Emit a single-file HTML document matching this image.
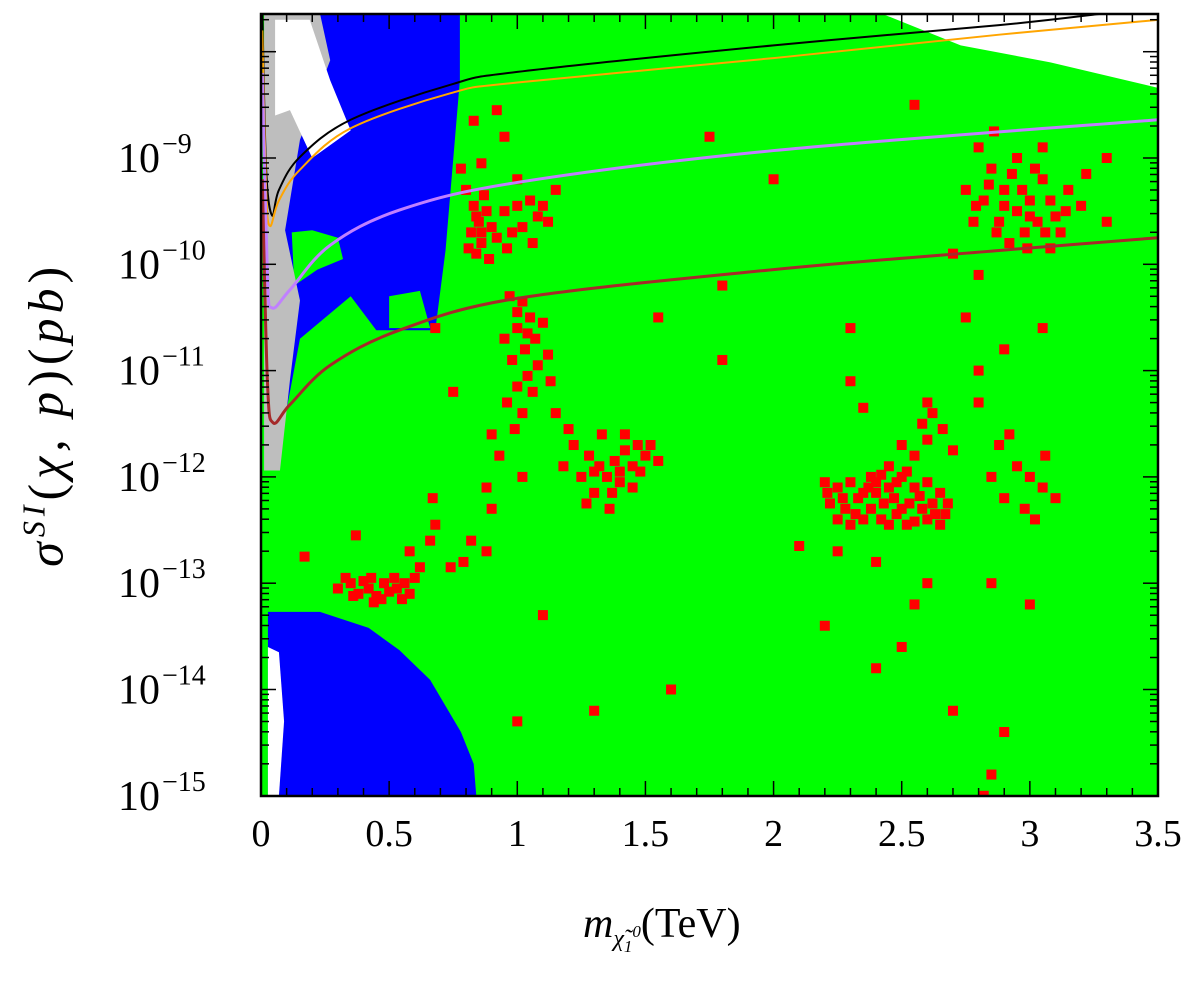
<!DOCTYPE html>
<html><head><meta charset="utf-8"><style>
body{margin:0;background:#fff;width:1187px;height:985px;overflow:hidden;font-family:"Liberation Serif",serif}
</style></head><body>
<svg id="chart" width="1187" height="985" xmlns="http://www.w3.org/2000/svg" style="position:absolute;left:0;top:0"></svg>
<script>
const xTicks=[0,0.5,1,1.5,2,2.5,3,3.5];
const xTickLabels=["0","0.5","1","1.5","2","2.5","3","3.5"];
const yTicks=[-15,-14,-13,-12,-11,-10,-9];
const yTickLabels=["−15","−14","−13","−12","−11","−10","−9"];
// region polygons [TeV, log10 sigma]
const whiteTopRight=[[2.42,-7.64],[2.73,-7.94],[3.08,-8.1],[3.5,-8.34],[3.5,-7.64]];
const blueTopLeft=[[0.016,-7.64],[0.776,-7.64],[0.776,-8.27],[0.72,-9.87],[0.68,-10.62],[0.45,-10.62],[0.35,-10.3],[0.152,-10.7],[0.055,-11.94],[0.016,-11.94]];
const greenInTop=[[0.12,-9.7],[0.2,-9.68],[0.3,-9.75],[0.32,-9.95],[0.22,-10.05],[0.13,-10.2]];
const greenInTop2=[[0.5,-10.3],[0.62,-10.25],[0.66,-10.6],[0.5,-10.6]];
const grayTopLeft=[[0.012,-7.64],[0.23,-7.64],[0.27,-8.08],[0.152,-8.83],[0.094,-9.68],[0.152,-10.34],[0.113,-11.09],[0.074,-11.94],[0.012,-11.94]];
const whiteTopLeft=[[0.055,-7.70],[0.19,-7.70],[0.27,-8.27],[0.35,-8.74],[0.2,-9.0],[0.113,-8.55],[0.055,-8.6]];
const blueBottomLeft=[[0.027,-13.27],[0.23,-13.27],[0.42,-13.42],[0.54,-13.63],[0.66,-13.91],[0.78,-14.4],[0.83,-14.7],[0.84,-15],[0.027,-15]];
const whiteBottomLeft=[[0.027,-13.6],[0.07,-13.65],[0.09,-14.3],[0.07,-15],[0.027,-15]];
// exclusion curves
const blackCurve=[[0.005,-7.6],[0.02,-9.1],[0.043,-9.54],[0.07,-9.3],[0.152,-8.99],[0.35,-8.64],[0.74,-8.31],[1.0,-8.19],[2.0,-7.94],[2.88,-7.75],[3.27,-7.645]];
const orangeCurve=[[0.005,-7.8],[0.02,-9.3],[0.035,-9.64],[0.07,-9.4],[0.152,-9.11],[0.35,-8.72],[0.74,-8.39],[1.0,-8.29],[2.0,-8.06],[2.88,-7.84],[3.5,-7.70]];
const violetCurve=[[0.005,-8.2],[0.025,-10.1],[0.043,-10.41],[0.113,-10.24],[0.27,-9.82],[0.54,-9.49],[1.0,-9.23],[2.0,-8.93],[3.5,-8.64]];
const brownCurve=[[0.005,-9.2],[0.025,-11.1],[0.047,-11.49],[0.113,-11.32],[0.27,-10.95],[0.54,-10.62],[1.0,-10.32],[2.0,-10.05],[2.88,-9.87],[3.5,-9.75]];
// red points
const redPoints=[
[0.3,-13.05],[0.35,-13.0],[0.38,-13.1],[0.42,-13.05],[0.45,-13.12],[0.48,-13.0],[0.5,-13.08],[0.53,-13.05],[0.56,-13.0],[0.58,-13.1],[0.44,-13.18],[0.4,-12.98],[0.52,-12.95],[0.6,-12.95],[0.62,-12.85],[0.36,-13.12],[0.47,-13.15],[0.33,-12.95],[0.43,-12.95],[0.55,-13.15],[0.37,-12.55],[0.58,-12.7],[0.17,-12.75],[0.66,-12.6],[0.68,-12.45],[0.74,-12.85],[0.79,-12.8],[0.82,-12.6],[0.88,-12.7],[0.9,-12.3],[0.67,-12.2],
[0.8,-9.3],[0.83,-9.45],[0.85,-9.6],[0.82,-9.7],[0.86,-9.8],[0.88,-9.5],[0.84,-9.9],[0.9,-9.65],[0.87,-9.35],[0.81,-9.85],[0.89,-9.95],[0.92,-9.75],[0.84,-9.55],[0.86,-9.7],[0.78,-9.1],[0.86,-9.05],[0.95,-8.8],[0.83,-8.65],[0.92,-8.55],
[0.95,-9.5],[1.0,-9.45],[1.05,-9.4],[1.08,-9.55],[1.02,-9.65],[0.98,-9.7],[1.1,-9.45],[1.12,-9.6],[0.96,-9.85],[1.06,-9.8],[1.15,-9.3],[1.0,-9.2],
[0.97,-10.3],[1.02,-10.35],[1.05,-10.5],[1.0,-10.6],[1.07,-10.7],[1.03,-10.8],[0.98,-10.9],[1.08,-10.95],[1.04,-11.05],[1.1,-10.55],[1.0,-11.15],[1.06,-11.2],[0.96,-11.3],[1.12,-10.85],[1.02,-11.4],[0.95,-10.7],[1.13,-11.1],[1.04,-10.65],[1.0,-10.45],[0.9,-11.6],[0.99,-11.55],[0.93,-11.8],[1.02,-12.0],[0.88,-12.1],
[1.22,-11.7],[1.28,-11.8],[1.32,-11.9],[1.38,-11.85],[1.42,-11.75],[1.45,-11.9],[1.5,-11.8],[1.35,-12.0],[1.4,-12.05],[1.48,-11.95],[1.25,-12.0],[1.3,-12.15],[1.42,-11.6],[1.52,-11.7],[1.55,-11.85],[1.18,-11.9],[1.27,-12.25],[1.36,-12.3],[1.45,-12.1],[1.33,-11.6],[1.2,-11.55],[1.4,-11.95],[1.47,-11.7],[1.3,-11.95],[1.37,-12.15],
[2.2,-12.05],[2.25,-12.1],[2.3,-12.05],[2.35,-12.15],[2.4,-12.05],[2.45,-12.1],[2.5,-12.0],[2.55,-12.1],[2.6,-12.05],[2.65,-12.15],[2.22,-12.25],[2.28,-12.3],[2.33,-12.2],[2.38,-12.3],[2.43,-12.25],[2.48,-12.35],[2.53,-12.25],[2.58,-12.3],[2.63,-12.35],[2.68,-12.25],[2.25,-12.4],[2.35,-12.4],[2.45,-12.45],[2.55,-12.42],[2.65,-12.45],[2.42,-11.98],[2.52,-11.95],
[2.21,-12.15],[2.27,-12.2],[2.32,-12.35],[2.37,-12.1],[2.42,-12.4],[2.47,-12.2],[2.52,-12.45],[2.57,-12.18],[2.62,-12.25],[2.67,-12.35],[2.3,-12.45],[2.4,-12.15],[2.5,-12.3],[2.6,-12.4],[2.48,-12.05],[2.38,-12.0],
[2.55,-11.8],[2.6,-11.65],[2.58,-11.5],[2.62,-11.4],[2.6,-11.3],[2.66,-11.55],[2.5,-11.7],[2.7,-11.75],[2.45,-11.9],[2.3,-11.1],[2.35,-11.35],[2.25,-12.7],[2.6,-13.0],[2.55,-13.2],[2.4,-12.8],
[2.8,-8.9],[2.85,-9.1],[2.9,-9.3],[2.95,-9.5],[3.0,-9.4],[3.05,-9.2],[3.1,-9.55],[2.88,-9.6],[2.98,-9.7],[3.02,-9.1],[2.82,-9.4],[3.15,-9.3],[3.12,-9.7],[2.92,-9.8],[3.08,-9.85],[2.86,-8.75],[3.2,-9.45],[2.78,-9.6],[2.75,-9.3],[3.05,-8.9],[2.95,-9.0],[3.22,-9.15],[2.7,-9.9],[2.8,-10.1],[3.3,-9.0],[3.3,-9.6],
[2.84,-9.25],[2.9,-9.45],[2.97,-9.3],[3.03,-9.6],[3.08,-9.4],[2.93,-9.15],[2.87,-9.7],[3.0,-9.55],[3.14,-9.5],[2.99,-9.85],[2.79,-9.45],[3.06,-9.7],
[2.88,-11.7],[2.95,-11.9],[3.0,-12.0],[3.05,-12.1],[2.9,-12.2],[2.98,-12.3],[3.06,-11.8],[2.85,-12.0],[3.1,-12.2],[2.92,-11.6],[3.02,-12.4],[2.8,-11.3],[2.8,-11.0],[2.9,-10.8],[2.75,-10.5],
[1.8,-10.2],[1.55,-10.5],[2.3,-10.6],[3.05,-10.6],[2.2,-13.4],[2.5,-13.6],[2.7,-14.2],[2.9,-14.4],[2.4,-13.8],[1.6,-14.0],[1.3,-14.2],[1.0,-14.3],[1.8,-10.9],[0.68,-10.6],[0.75,-11.2],[1.15,-11.4],[2.1,-12.65],[2.0,-9.2],[1.75,-8.8],[2.55,-8.5],[3.0,-13.2],[2.85,-13.0],[2.82,-15],[2.85,-14.8],[1.1,-13.3]
];
const svg=document.getElementById('chart');
const NS='http://www.w3.org/2000/svg';
const L=261,R=1158,T=14,B=796;
const sx=v=>L+(v/3.5)*(R-L);
const sy=v=>158-(v+9)*106.3;
function el(tag,attrs,parent){const e=document.createElementNS(NS,tag);for(const k in attrs)e.setAttribute(k,attrs[k]);(parent||svg).appendChild(e);return e;}
const clip=el('clipPath',{id:'pc'});el('rect',{x:L,y:T,width:R-L,height:B-T},clip);
const g=el('g',{'clip-path':'url(#pc)'});


const bg=el('rect',{x:L,y:T,width:R-L,height:B-T,fill:'#00ff00'},g);


function poly(pts,fill,name){const p=el('polygon',{points:pts.map(d=>sx(d[0])+','+sy(d[1])).join(' '),fill:fill},g);}
poly(whiteTopRight,'#fff','white-region-top-right');
poly(blueTopLeft,'#0000ff','blue-region-top-left');
poly(greenInTop,'#00ff00','green-region-in-blue');
poly(greenInTop2,'#00ff00','green-region-in-blue-2');
poly(grayTopLeft,'#bebebe','gray-region-top-left');
poly(whiteTopLeft,'#fff','white-region-top-left');
poly(blueBottomLeft,'#0000ff','blue-region-bottom-left');
poly(whiteBottomLeft,'#fff','white-region-bottom-left');
redPoints.forEach(d=>{const r=el('rect',{x:sx(d[0])-5,y:sy(d[1])-5,width:10,height:10,fill:'#ff0000'},g);

});
function curve(pts,col,w,name){
 const P=pts.map(d=>[sx(d[0]),sy(d[1])]);
 let d='M'+P[0][0]+','+P[0][1];
 for(let i=0;i<P.length-1;i++){const p0=P[Math.max(0,i-1)],p1=P[i],p2=P[i+1],p3=P[Math.min(P.length-1,i+2)];
  const c1=[p1[0]+(p2[0]-p0[0])/6,p1[1]+(p2[1]-p0[1])/6],c2=[p2[0]-(p3[0]-p1[0])/6,p2[1]-(p3[1]-p1[1])/6];
  d+=' C'+c1+' '+c2+' '+p2;}
 const p=el('path',{d:d,fill:'none',stroke:col,'stroke-width':w,'stroke-linejoin':'round'},g);}
curve(blackCurve,'#000',2,'black-limit-curve');
curve(orangeCurve,'#ffa500',2,'orange-limit-curve');
curve(violetCurve,'#c080ff',3,'violet-limit-curve');
curve(brownCurve,'#a52a2a',3,'brown-limit-curve');
const tk=el('g',{stroke:'#000','stroke-width':1.5});


for(let i=0;i<=35;i++){const v=i/10,x=sx(v),len=(i%5==0)?15:8;
el('line',{x1:x,y1:B,x2:x,y2:B-len},tk);el('line',{x1:x,y1:T,x2:x,y2:T+len},tk);}
for(let d=-15;d<=-8;d++){for(let m=1;m<10;m++){const v=d+Math.log10(m);if(v>-7.64)continue;const y=sy(v),len=m==1?15:8;
el('line',{x1:L,y1:y,x2:L+len,y2:y},tk);el('line',{x1:R,y1:y,x2:R-len,y2:y},tk);}}
const fr=el('rect',{x:L,y:T,width:R-L,height:B-T,fill:'none',stroke:'#000','stroke-width':2.5});


xTicks.forEach((v,i)=>{const t=el('text',{x:sx(v),y:846,'font-size':38,'text-anchor':'middle'});t.textContent=xTickLabels[i];

});
yTicks.forEach((v,i)=>{const t=el('text',{x:160,y:sy(v)+14,'font-size':42,'text-anchor':'end'});t.textContent='10';


const s=el('text',{x:162,y:sy(v)-5,'font-size':28});s.textContent=yTickLabels[i];});
</script>
<div style="position:absolute;left:583px;top:900px;font-size:42px;font-style:italic;white-space:nowrap">m<sub style="font-size:24px">χ̃<sub style="font-size:17px">1</sub><sup style="font-size:17px">0</sup></sub><span style="font-style:normal">(TeV)</span></div>
<div style="position:absolute;left:-195px;top:385px;width:480px;text-align:center;transform:rotate(-90deg);font-size:50px;font-style:italic;white-space:nowrap;letter-spacing:5px">σ<sup style="font-size:32px">SI</sup><span style="font-style:normal">(</span>χ, p<span style="font-style:normal">)(</span>pb<span style="font-style:normal">)</span></div>
</body></html>
